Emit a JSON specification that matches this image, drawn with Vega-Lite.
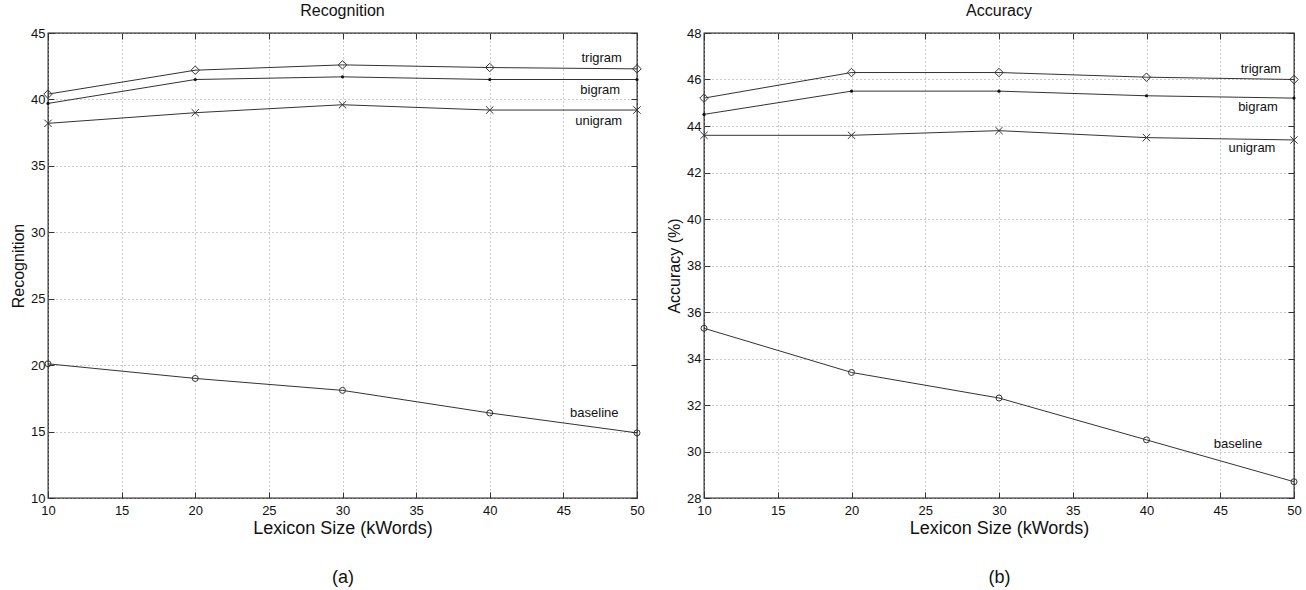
{
  "$schema": "https://vega.github.io/schema/vega-lite/v6.json",
  "padding": {"left": 9, "top": 2, "right": 0, "bottom": 0},
  "config": {
    "font": "Liberation Sans",
    "view": {"stroke": "#222", "strokeWidth": 1.3},
    "axis": {"labelFont": "Liberation Sans", "labelFontSize": 13, "labelColor": "#111", "titleFont": "Liberation Sans", "titleFontWeight": "normal", "titleColor": "#111", "domain": false, "tickColor": "#333", "tickSize": -6, "gridColor": "#999", "gridDash": [1, 3], "labelFlush": false, "labelPadding": 4},
    "title": {"fontSize": 16, "fontWeight": "normal", "font": "Liberation Sans", "color": "#111"},
    "concat": {"spacing": 20}
  },
  "datasets": {
    "rec": [
      {"series": "trigram", "size": 10, "value": 40.4}, {"series": "trigram", "size": 20, "value": 42.2}, {"series": "trigram", "size": 30, "value": 42.6}, {"series": "trigram", "size": 40, "value": 42.4}, {"series": "trigram", "size": 50, "value": 42.3},
      {"series": "bigram", "size": 10, "value": 39.7}, {"series": "bigram", "size": 20, "value": 41.5}, {"series": "bigram", "size": 30, "value": 41.7}, {"series": "bigram", "size": 40, "value": 41.5}, {"series": "bigram", "size": 50, "value": 41.5},
      {"series": "unigram", "size": 10, "value": 38.2}, {"series": "unigram", "size": 20, "value": 39.0}, {"series": "unigram", "size": 30, "value": 39.6}, {"series": "unigram", "size": 40, "value": 39.2}, {"series": "unigram", "size": 50, "value": 39.2},
      {"series": "baseline", "size": 10, "value": 20.1}, {"series": "baseline", "size": 20, "value": 19.0}, {"series": "baseline", "size": 30, "value": 18.1}, {"series": "baseline", "size": 40, "value": 16.4}, {"series": "baseline", "size": 50, "value": 14.9}
    ],
    "rec_labels": [
      {"label": "trigram", "x": 47.6, "y": 43.1},
      {"label": "bigram", "x": 47.5, "y": 40.7},
      {"label": "unigram", "x": 47.4, "y": 38.4},
      {"label": "baseline", "x": 47.1, "y": 16.4}
    ],
    "acc": [
      {"series": "trigram", "size": 10, "value": 45.2}, {"series": "trigram", "size": 20, "value": 46.3}, {"series": "trigram", "size": 30, "value": 46.3}, {"series": "trigram", "size": 40, "value": 46.1}, {"series": "trigram", "size": 50, "value": 46.0},
      {"series": "bigram", "size": 10, "value": 44.5}, {"series": "bigram", "size": 20, "value": 45.5}, {"series": "bigram", "size": 30, "value": 45.5}, {"series": "bigram", "size": 40, "value": 45.3}, {"series": "bigram", "size": 50, "value": 45.2},
      {"series": "unigram", "size": 10, "value": 43.6}, {"series": "unigram", "size": 20, "value": 43.6}, {"series": "unigram", "size": 30, "value": 43.8}, {"series": "unigram", "size": 40, "value": 43.5}, {"series": "unigram", "size": 50, "value": 43.4},
      {"series": "baseline", "size": 10, "value": 35.3}, {"series": "baseline", "size": 20, "value": 33.4}, {"series": "baseline", "size": 30, "value": 32.3}, {"series": "baseline", "size": 40, "value": 30.5}, {"series": "baseline", "size": 50, "value": 28.7}
    ],
    "acc_labels": [
      {"label": "trigram", "x": 47.76, "y": 46.45},
      {"label": "bigram", "x": 47.56, "y": 44.8},
      {"label": "unigram", "x": 47.15, "y": 43.04},
      {"label": "baseline", "x": 46.2, "y": 30.33}
    ]
  },
  "hconcat": [
    {
      "title": {"text": "Recognition", "offset": 8},
      "width": 589,
      "height": 465,
      "resolve": {"axis": {"x": "independent", "y": "independent"}},
      "layer": [
        {
          "data": {"name": "rec"},
          "mark": {"type": "line", "color": "#333", "strokeWidth": 1},
          "encoding": {
            "x": {"field": "size", "type": "quantitative", "scale": {"domain": [10, 50], "nice": false, "zero": false}, "axis": {"values": [10, 15, 20, 25, 30, 35, 40, 45, 50], "title": ["Lexicon Size (kWords)", "(a)"], "titleFontSize": 18, "titleLineHeight": 49, "titlePadding": 2, "labelPadding": 12, "grid": true}},
            "y": {"field": "value", "type": "quantitative", "scale": {"domain": [10, 45], "nice": false, "zero": false}, "axis": {"values": [10, 15, 20, 25, 30, 35, 40, 45], "title": "Recognition", "titleFontSize": 16, "labelPadding": 9, "grid": true}},
            "detail": {"field": "series"}
          }
        },
        {
          "data": {"name": "rec"},
          "transform": [{"filter": "datum.series !== 'bigram'"}],
          "mark": {"type": "point", "filled": false, "stroke": "#333", "strokeWidth": 1, "opacity": 1},
          "encoding": {
            "x": {"field": "size", "type": "quantitative", "scale": {"domain": [10, 50], "nice": false, "zero": false}, "axis": {"orient": "top", "labels": false, "title": null, "grid": false, "minExtent": 0, "maxExtent": 0, "values": [10, 15, 20, 25, 30, 35, 40, 45, 50]}},
            "y": {"field": "value", "type": "quantitative", "scale": {"domain": [10, 45], "nice": false, "zero": false}, "axis": {"orient": "right", "labels": false, "title": null, "grid": false, "minExtent": 0, "maxExtent": 0, "values": [10, 15, 20, 25, 30, 35, 40, 45]}},
            "shape": {"field": "series", "type": "nominal", "scale": {"domain": ["trigram", "unigram", "baseline"], "range": ["diamond", "M-1,-1L1,1M-1,1L1,-1", "circle"]}, "legend": null},
            "size": {"field": "series", "type": "nominal", "scale": {"domain": ["trigram", "unigram", "baseline"], "range": [72, 36, 64]}, "legend": null}
          }
        },
        {
          "data": {"name": "rec"},
          "transform": [{"filter": "datum.series === 'bigram'"}],
          "mark": {"type": "point", "filled": true, "shape": "circle", "size": 10, "color": "#111", "opacity": 1},
          "encoding": {
            "x": {"field": "size", "type": "quantitative", "scale": {"domain": [10, 50], "nice": false, "zero": false}, "axis": null},
            "y": {"field": "value", "type": "quantitative", "scale": {"domain": [10, 45], "nice": false, "zero": false}, "axis": null}
          }
        },
        {
          "data": {"name": "rec_labels"},
          "mark": {"type": "text", "fontSize": 13, "color": "#111"},
          "encoding": {
            "x": {"field": "x", "type": "quantitative", "scale": {"domain": [10, 50], "nice": false, "zero": false}, "axis": null},
            "y": {"field": "y", "type": "quantitative", "scale": {"domain": [10, 45], "nice": false, "zero": false}, "axis": null},
            "text": {"field": "label"}
          }
        }
      ]
    },
    {
      "title": {"text": "Accuracy", "offset": 8},
      "width": 590,
      "height": 465,
      "resolve": {"axis": {"x": "independent", "y": "independent"}},
      "layer": [
        {
          "data": {"name": "acc"},
          "mark": {"type": "line", "color": "#333", "strokeWidth": 1},
          "encoding": {
            "x": {"field": "size", "type": "quantitative", "scale": {"domain": [10, 50], "nice": false, "zero": false}, "axis": {"values": [10, 15, 20, 25, 30, 35, 40, 45, 50], "title": ["Lexicon Size (kWords)", "(b)"], "titleFontSize": 18, "titleLineHeight": 49, "titlePadding": 2, "labelPadding": 12, "grid": true}},
            "y": {"field": "value", "type": "quantitative", "scale": {"domain": [28, 48], "nice": false, "zero": false}, "axis": {"values": [28, 30, 32, 34, 36, 38, 40, 42, 44, 46, 48], "title": "Accuracy (%)", "titleFontSize": 16, "labelPadding": 9, "grid": true}},
            "detail": {"field": "series"}
          }
        },
        {
          "data": {"name": "acc"},
          "transform": [{"filter": "datum.series !== 'bigram'"}],
          "mark": {"type": "point", "filled": false, "stroke": "#333", "strokeWidth": 1, "opacity": 1},
          "encoding": {
            "x": {"field": "size", "type": "quantitative", "scale": {"domain": [10, 50], "nice": false, "zero": false}, "axis": {"orient": "top", "labels": false, "title": null, "grid": false, "minExtent": 0, "maxExtent": 0, "values": [10, 15, 20, 25, 30, 35, 40, 45, 50]}},
            "y": {"field": "value", "type": "quantitative", "scale": {"domain": [28, 48], "nice": false, "zero": false}, "axis": {"orient": "right", "labels": false, "title": null, "grid": false, "minExtent": 0, "maxExtent": 0, "values": [28, 30, 32, 34, 36, 38, 40, 42, 44, 46, 48]}},
            "shape": {"field": "series", "type": "nominal", "scale": {"domain": ["trigram", "unigram", "baseline"], "range": ["diamond", "M-1,-1L1,1M-1,1L1,-1", "circle"]}, "legend": null},
            "size": {"field": "series", "type": "nominal", "scale": {"domain": ["trigram", "unigram", "baseline"], "range": [72, 36, 64]}, "legend": null}
          }
        },
        {
          "data": {"name": "acc"},
          "transform": [{"filter": "datum.series === 'bigram'"}],
          "mark": {"type": "point", "filled": true, "shape": "circle", "size": 10, "color": "#111", "opacity": 1},
          "encoding": {
            "x": {"field": "size", "type": "quantitative", "scale": {"domain": [10, 50], "nice": false, "zero": false}, "axis": null},
            "y": {"field": "value", "type": "quantitative", "scale": {"domain": [28, 48], "nice": false, "zero": false}, "axis": null}
          }
        },
        {
          "data": {"name": "acc_labels"},
          "mark": {"type": "text", "fontSize": 13, "color": "#111"},
          "encoding": {
            "x": {"field": "x", "type": "quantitative", "scale": {"domain": [10, 50], "nice": false, "zero": false}, "axis": null},
            "y": {"field": "y", "type": "quantitative", "scale": {"domain": [28, 48], "nice": false, "zero": false}, "axis": null},
            "text": {"field": "label"}
          }
        }
      ]
    }
  ]
}
